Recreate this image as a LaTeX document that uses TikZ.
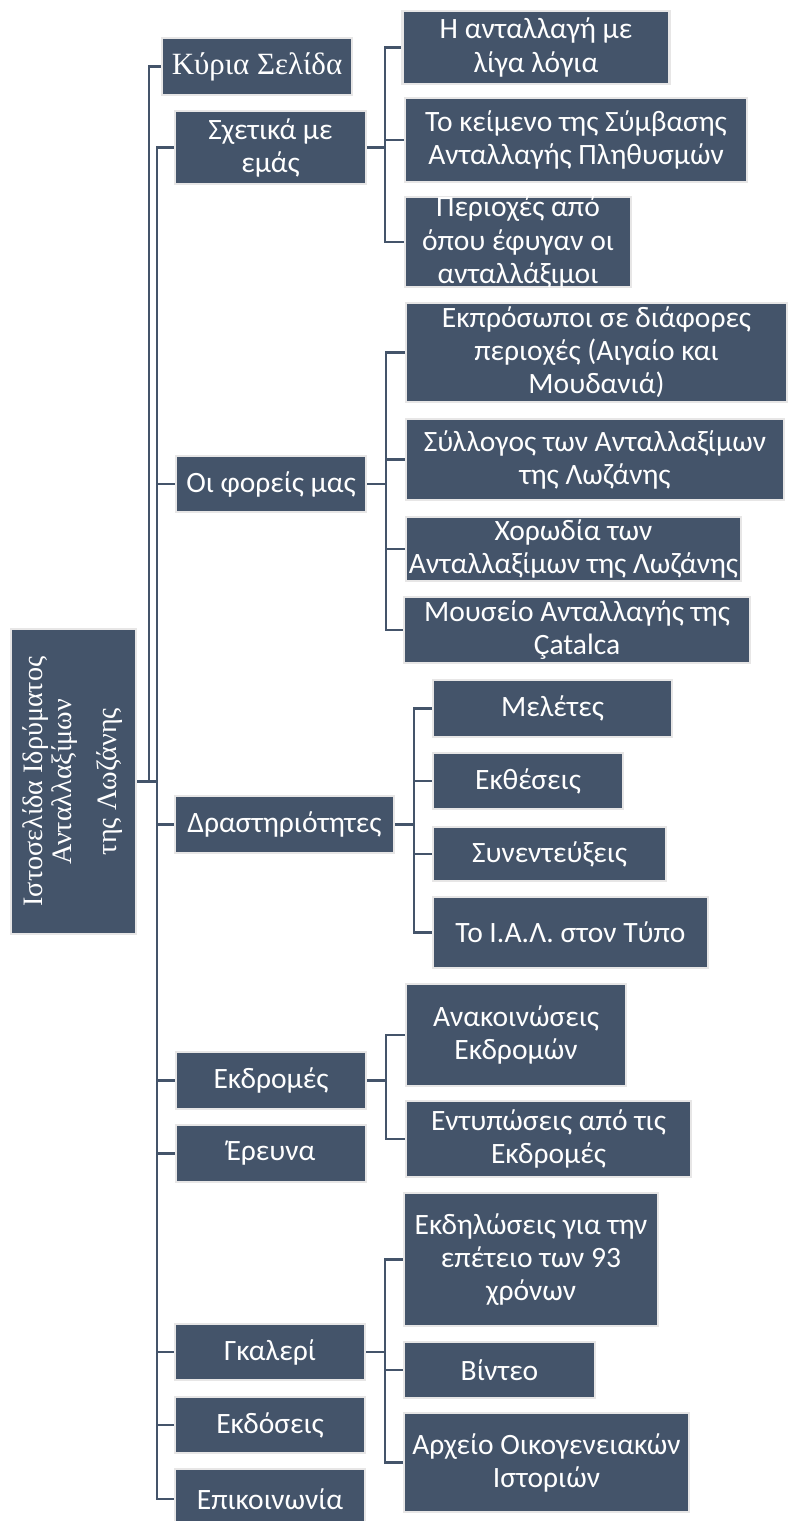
\documentclass[tikz,border=0pt]{standalone}
\usepackage{fontspec}
\usepackage{graphicx}
\setmainfont{Carlito}
\newfontfamily\titlefont{Liberation Serif}
\definecolor{slate}{HTML}{44546A}
\definecolor{rim}{HTML}{E7E6E6}
\tikzset{
  box/.style={rectangle, fill=slate, draw=rim, line width=1.5pt, text=white, align=center,
    inner xsep=2pt, inner ysep=0pt, font=\fontsize{21}{23.5}\selectfont},
  conn/.style={draw=slate, line width=1.5pt},
}

\begin{document}
\begin{tikzpicture}[x=0.025cm, y=-0.025cm]
\path[use as bounding box, fill=white] (0,0) rectangle (792,1521);

% root
\node[box, minimum width=3.125cm, minimum height=7.625cm] (root) at (73.5,781.5)
  {\rotatebox{90}{\titlefont\fontsize{20}{21}\selectfont\begin{tabular}{@{}c@{}}Ιστοσελίδα Ιδρύματος\\ Ανταλλαξίμων\\[11pt] της Λωζάνης\end{tabular}}};

% first level
\node[box, font=\titlefont\fontsize{22}{26}\selectfont, minimum width=4.75cm, minimum height=1.425cm] (kyria) at (257,66.5) {Κύρια Σελίδα};
\node[box, minimum width=4.775cm, minimum height=1.825cm] (sxetika) at (270.5,147.5) {Σχετικά με\\ εμάς};
\node[box, minimum width=4.75cm, minimum height=1.4cm] (foreis) at (271,484) {Οι φορείς μας};
\node[box, minimum width=5.475cm, minimum height=1.425cm] (drast) at (284.5,824.5) {Δραστηριότητες};
\node[box, minimum width=4.75cm, minimum height=1.425cm] (ekdromes) at (271,1080.5) {Εκδρομές};
\node[box, minimum width=4.75cm, minimum height=1.425cm] (erevna) at (271,1153.5) {Έρευνα};
\node[box, minimum width=4.75cm, minimum height=1.4cm] (gallery) at (270,1352) {Γκαλερί};
\node[box, minimum width=4.75cm, minimum height=1.4cm] (ekdoseis) at (270,1425) {Εκδόσεις};
\node[box, minimum width=4.75cm, minimum height=1.5cm] (epikoin) at (270,1499) {Επικοινωνία};

% under Σχετικά με εμάς
\node[box, minimum width=6.675cm, minimum height=1.825cm] (antallagi) at (536,47.5) {Η ανταλλαγή με\\ λίγα λόγια};
\node[box, minimum width=8.55cm, minimum height=2.1cm] (keimeno) at (576,140) {Το κείμενο της Σύμβασης\\ Ανταλλαγής Πληθυσμών};
\node[box, inner ysep=-1.5pt, minimum width=5.65cm, minimum height=2.25cm] (perioxes) at (518,242) {Περιοχές από\\ όπου έφυγαν οι\\ ανταλλάξιμοι};

% under Οι φορείς μας
\node[box, minimum width=9.525cm, minimum height=2.475cm] (ekprosopoi) at (596.5,352.5) {Εκπρόσωποι σε διάφορες\\ περιοχές (Αιγαίο και\\ Μουδανιά)};
\node[box, minimum width=9.45cm, minimum height=2.025cm] (syllogos) at (595,459.5) {Σύλλογος των Ανταλλαξίμων\\ της Λωζάνης};
\node[box, minimum width=8.375cm, minimum height=1.6cm] (xorodia) at (573.5,549) {Χορωδία των\\ Ανταλλαξίμων της Λωζάνης};
\node[box, minimum width=8.65cm, minimum height=1.65cm] (mouseio) at (577,630) {Μουσείο Ανταλλαγής της\\ Çatalca};

% under Δραστηριότητες
\node[box, minimum width=5.975cm, minimum height=1.425cm] (meletes) at (552.5,708.5) {Μελέτες};
\node[box, minimum width=4.75cm, minimum height=1.4cm] (ektheseis) at (528,781) {Εκθέσεις};
\node[box, minimum width=5.825cm, minimum height=1.35cm] (synenteuxeis) at (549.5,854) {Συνεντεύξεις};
\node[box, minimum width=6.875cm, minimum height=1.775cm] (typos) at (570.5,932.5) {Το Ι.Α.Λ. στον Τύπο};

% under Εκδρομές
\node[box, minimum width=5.5cm, minimum height=2.55cm] (anakoinoseis) at (516,1035) {Ανακοινώσεις\\ Εκδρομών};
\node[box, minimum width=7.125cm, minimum height=1.9cm] (entyposeis) at (548.5,1139) {Εντυπώσεις από τις\\ Εκδρομές};

% under Γκαλερί
\node[box, minimum width=6.35cm, minimum height=3.325cm] (ekdiloseis) at (531,1259.5) {Εκδηλώσεις για την\\ επέτειο των 93\\ χρόνων};
\node[box, minimum width=4.775cm, minimum height=1.4cm] (vinteo) at (499.5,1370) {Βίντεο};
\node[box, minimum width=7.125cm, minimum height=2.475cm] (arxeio) at (546.5,1462.5) {Αρχείο Οικογενειακών\\ Ιστοριών};

% connectors
\draw[conn] (root.east) -- ++(12,0) |- (kyria.west);
\draw[conn] (root.east) -- ++(19.5,0) |- (sxetika.west);
\draw[conn] (root.east) -- ++(19.5,0) |- (foreis.west);
\draw[conn] (root.east) -- ++(19.5,0) |- (drast.west);
\draw[conn] (root.east) -- ++(19.5,0) |- (ekdromes.west);
\draw[conn] (root.east) -- ++(19.5,0) |- (erevna.west);
\draw[conn] (root.east) -- ++(19.5,0) |- (gallery.west);
\draw[conn] (root.east) -- ++(19.5,0) |- (ekdoseis.west);
\draw[conn] (root.east) -- ++(19.5,0) |- (epikoin.west);

\draw[conn] (sxetika.east) -- ++(18,0) |- (antallagi.west);
\draw[conn] (sxetika.east) -- ++(18,0) |- (keimeno.west);
\draw[conn] (sxetika.east) -- ++(18,0) |- (perioxes.west);

\draw[conn] (foreis.east) -- ++(19,0) |- (ekprosopoi.west);
\draw[conn] (foreis.east) -- ++(19,0) |- (syllogos.west);
\draw[conn] (foreis.east) -- ++(19,0) |- (xorodia.west);
\draw[conn] (foreis.east) -- ++(19,0) |- (mouseio.west);

\draw[conn] (drast.east) -- ++(19,0) |- (meletes.west);
\draw[conn] (drast.east) -- ++(19,0) |- (ektheseis.west);
\draw[conn] (drast.east) -- ++(19,0) |- (synenteuxeis.west);
\draw[conn] (drast.east) -- ++(19,0) |- (typos.west);

\draw[conn] (ekdromes.east) -- ++(19,0) |- (anakoinoseis.west);
\draw[conn] (ekdromes.east) -- ++(19,0) |- (entyposeis.west);

\draw[conn] (gallery.east) -- ++(19,0) |- (ekdiloseis.west);
\draw[conn] (gallery.east) -- ++(19,0) |- (vinteo.west);
\draw[conn] (gallery.east) -- ++(19,0) |- (arxeio.west);

\end{tikzpicture}
\end{document}
